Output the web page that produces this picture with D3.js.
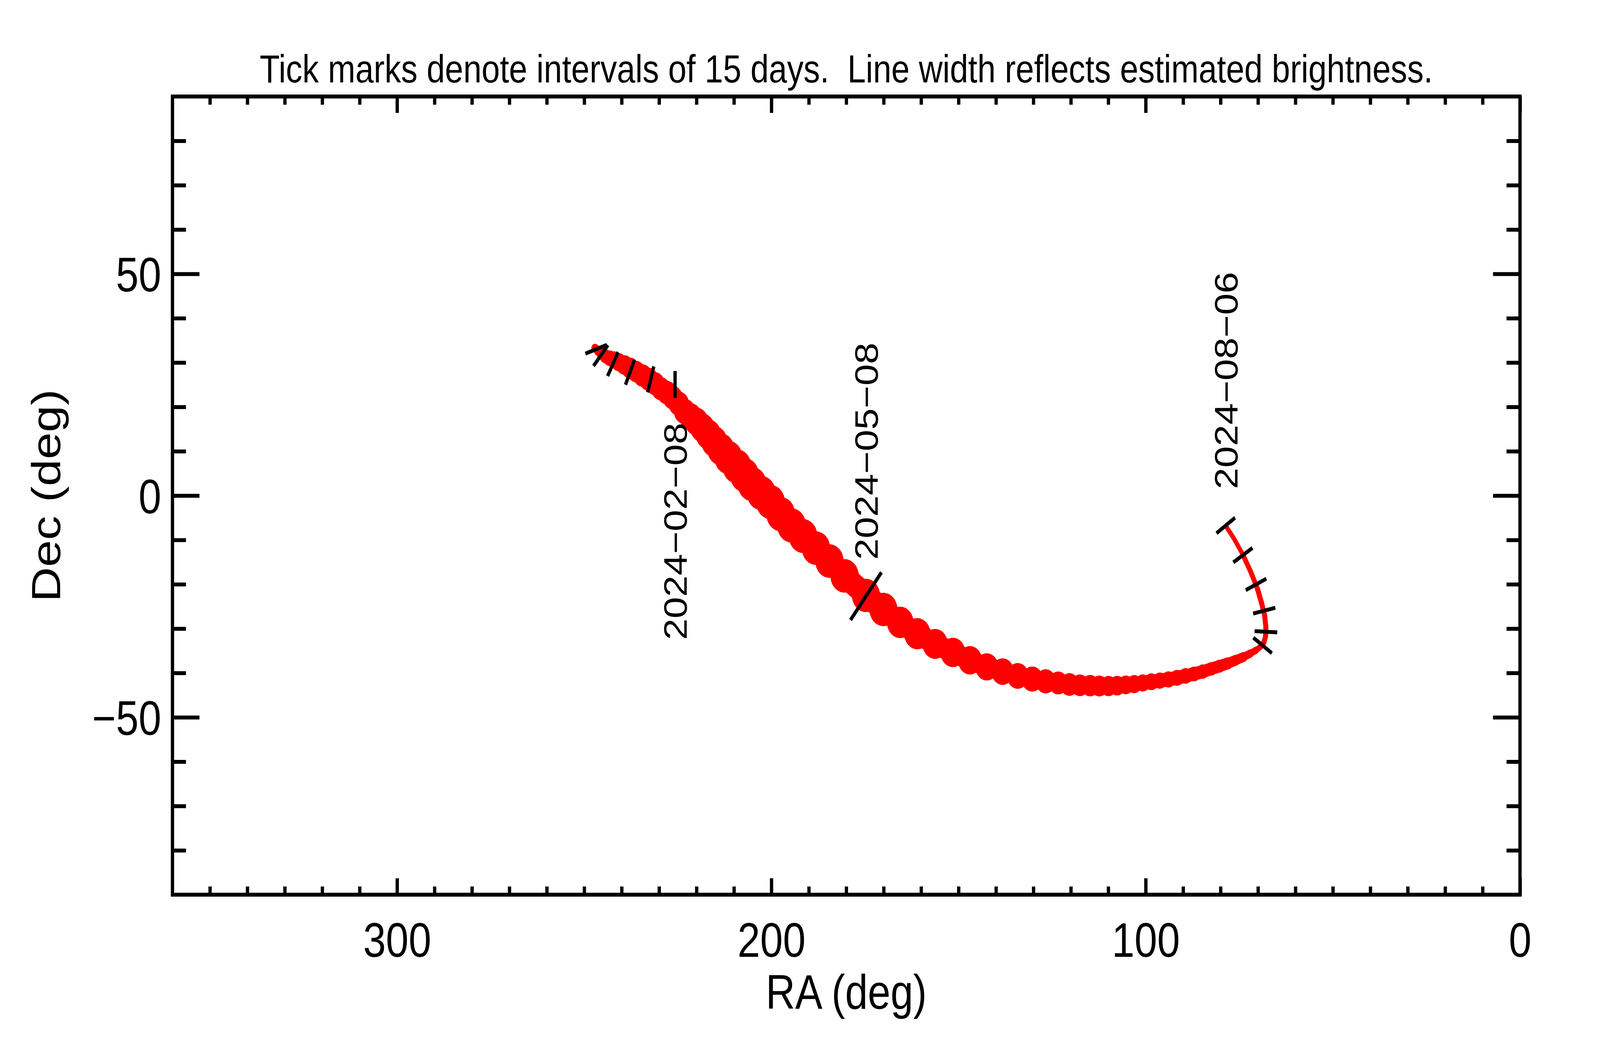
<!DOCTYPE html>
<html><head><meta charset="utf-8">
<script src="https://cdn.jsdelivr.net/npm/d3@7"></script>
<style>
html,body{margin:0;padding:0;background:#fff;overflow:hidden;width:100%;height:100%;}
svg{display:block;}
text{font-family:"Liberation Sans",Arial,Helvetica,sans-serif;fill:#000;}
</style></head><body>
<div id="chart"></div>
<script>
// ---------------- data ----------------
const pathRA = [247.10,246.22,245.34,244.28,243.14,242.00,240.77,239.27,237.78,236.11,234.44,232.76,231.09,229.51,227.93,226.35,224.76,223.18,221.60,220.01,218.43,216.85,215.27,213.51,211.48,209.20,207.18,205.15,202.69,200.23,197.50,194.60,191.52,188.09,184.49,180.44,174.73,170.07,165.58,161.01,156.26,151.51,146.94,142.45,138.23,134.19,130.32,126.71,123.37,120.38,117.57,114.84,112.38,109.92,107.63,105.35,103.06,100.77,98.49,96.20,93.92,91.63,89.34,87.06,84.77,82.48,80.28,78.09,75.98,73.95,72.11,70.52,69.29,68.41,67.97,67.89,68.24,69.03,70.17,71.93,74.13,76.33,78.53];
const pathDec = [33.26,32.64,32.03,31.41,30.97,30.62,30.09,29.47,28.77,27.97,27.09,26.21,25.24,24.10,23.22,22.07,20.75,18.99,17.84,16.70,15.29,13.79,12.20,10.44,8.59,6.56,4.63,2.60,0.57,-1.45,-4.19,-6.74,-9.12,-11.85,-14.76,-18.11,-22.51,-25.68,-28.59,-31.15,-33.44,-35.37,-37.14,-38.63,-39.69,-40.66,-41.37,-41.89,-42.25,-42.60,-42.78,-42.86,-42.95,-42.95,-42.86,-42.69,-42.51,-42.25,-41.98,-41.72,-41.45,-41.10,-40.66,-40.22,-39.69,-39.07,-38.46,-37.84,-37.14,-36.43,-35.64,-34.85,-34.05,-33.08,-31.76,-29.65,-27.00,-24.27,-20.93,-17.22,-13.17,-9.82,-6.92];
// estimated brightness (magnitude) -> line width
const pathMag = [13.7,13.2,12.7,11.9,11.4,11.0,10.6,10.1,9.7,9.5,9.2,9.0,9.0,9.0,8.8,8.8,8.6,8.2,7.8,7.4,7.1,6.7,6.4,6.0,5.6,5.3,5.3,5.3,5.3,5.3,5.3,5.3,5.4,5.5,5.5,5.5,5.6,5.6,6.2,6.3,6.7,6.9,7.2,7.6,7.8,8.1,8.3,8.6,9.0,9.1,9.4,9.5,9.7,9.9,10.1,10.4,10.6,10.9,11.0,11.2,11.2,11.3,11.4,11.7,11.8,12.1,12.3,12.6,13.0,13.3,13.8,14.2,14.5,14.6,14.6,14.6,14.6,14.6,14.6,14.7,14.7,14.9,14.9];

// 15-day tick marks (position, orientation of the mark in degrees)
const tickDate  = ["2023-11-25","2023-12-10","2023-12-25","2024-01-09","2024-01-24","2024-02-08","2024-05-08","2024-05-23","2024-06-07","2024-06-22","2024-07-07","2024-07-22","2024-08-06"];
const tickRA    = [246.83,245.60,242.35,237.78,232.24,225.73,174.73,68.77,67.89,68.33,70.52,74.04,78.61];
const tickDec   = [33.00,31.59,29.65,27.80,26.21,25.07,-22.69,-33.79,-30.70,-25.95,-20.04,-13.44,-6.74];
const tickAngle = [19.1,50.8,62.4,66.8,74.2,90,52.4,-35.3,-2.5,12.4,25.1,32.5,35.3];

const labelDates = ["2024-02-08","2024-05-08","2024-08-06"];
const labelSide  = ["below","above","above"];

const raTicks = [0,100,200,300];
const raLabels = ["0","100","200","300"];
const decTicks = [-50,0,50];
const decLabels = ["\u221250","0","50"];
const titleText = "Tick marks denote intervals of 15 days.  Line width reflects estimated brightness.";
const xTitle = "RA (deg)";
const yTitle = "Dec (deg)";

// ---------------- layout / style ----------------
const W = 4861, H = 2708;
const M = {left:524, right:4618, top:247, bottom:2290};
const FONT = '"Liberation Sans",Arial,Helvetica,sans-serif';
const RED = "#ff0000";
const tickLen = 69, longTickLen = 154, longTickDates = ["2024-05-08"];

const x = d3.scaleLinear().domain([360,0]).range([M.left, M.right]);
const y = d3.scaleLinear().domain([-90,90]).range([M.bottom, M.top]);
const wScale = d3.scaleLinear().domain([15,5]).range([12,90]);

const vw = window.innerWidth || W, vh = window.innerHeight || H;
const svg = d3.select("#chart").append("svg")
  .attr("width", vw).attr("height", vh)
  .attr("viewBox", `0 0 ${W} ${H}`)
  .attr("preserveAspectRatio","none");
svg.append("rect").attr("width", W).attr("height", H).attr("fill", "#fff");

// ---------------- path ----------------
const pts = pathRA.map((r,i)=>({x:x(r), y:y(pathDec[i]), w:wScale(pathMag[i])}));
const gPath = svg.append("g");
const segs = d3.pairs(pts);
gPath.selectAll("line.seg").data(segs).join("line")
  .attr("x1",d=>d[0].x).attr("y1",d=>d[0].y).attr("x2",d=>d[1].x).attr("y2",d=>d[1].y)
  .attr("stroke",RED).attr("stroke-linecap","round")
  .attr("stroke-width",d=>{
    const m = Math.min(d[0].w,d[1].w);
    const k = 1 - 0.28*Math.max(0,Math.min(1,(m-30)/25));
    return m*k;
  });
gPath.selectAll("circle").data(pts).join("circle")
  .attr("cx",d=>d.x).attr("cy",d=>d.y).attr("r",d=>d.w/2).attr("fill",RED);

// ---------------- tick marks ----------------
const ticks = tickDate.map((d,i)=>({date:d, cx:x(tickRA[i]), cy:y(tickDec[i]), a:tickAngle[i]*Math.PI/180,
  L: longTickDates.includes(d) ? longTickLen : tickLen}));
svg.append("g").selectAll("line").data(ticks).join("line")
  .attr("x1",d=>d.cx - d.L/2*Math.cos(d.a)).attr("y1",d=>d.cy + d.L/2*Math.sin(d.a))
  .attr("x2",d=>d.cx + d.L/2*Math.cos(d.a)).attr("y2",d=>d.cy - d.L/2*Math.sin(d.a))
  .attr("stroke","#000").attr("stroke-width",10);

// ---------------- date labels ----------------
const labFS = 99, capH = 0.716*labFS;
svg.append("g").selectAll("text").data(labelDates).join("text")
  .attr("transform",(d,i)=>{
    const t = ticks.find(k=>k.date===d);
    const yy = labelSide[i]==="above" ? t.cy - 93 : t.cy + 98;
    return `translate(${t.cx + capH/2},${yy}) rotate(-90)`;
  })
  .attr("text-anchor",(d,i)=>labelSide[i]==="above"?"start":"end")
  .attr("font-size",labFS)
  .text(d=>d.replace(/-/g,"\u2212"));

// ---------------- axes ----------------
function styleAxis(g, labels){
  g.select(".domain").remove();
  g.selectAll(".tick line").attr("stroke","#000").attr("stroke-width",10);
  g.attr("font-family",FONT).attr("font-size",124);
  if(!labels) g.selectAll(".tick text").remove();
  g.selectAll(".tick text").attr("fill","#000");
}
const minorRA = d3.range(10,360,10).filter(v=>v%100!==0);
const minorDec = d3.range(-80,90,10).filter(v=>v%50!==0);

svg.append("g").attr("transform",`translate(0,${M.bottom})`)
  .call(d3.axisBottom(x).tickValues(raTicks).tickSize(-42).tickPadding(71).tickFormat((d,i)=>raLabels[i]))
  .call(g=>styleAxis(g,true));
svg.append("g").attr("transform",`translate(0,${M.bottom})`)
  .call(d3.axisBottom(x).tickValues(minorRA).tickSize(-21).tickFormat(""))
  .call(g=>styleAxis(g,false));
svg.append("g").attr("transform",`translate(0,${M.top})`)
  .call(d3.axisTop(x).tickValues(raTicks).tickSize(-42).tickFormat(""))
  .call(g=>styleAxis(g,false));
svg.append("g").attr("transform",`translate(0,${M.top})`)
  .call(d3.axisTop(x).tickValues(minorRA).tickSize(-21).tickFormat(""))
  .call(g=>styleAxis(g,false));

const gl = svg.append("g").attr("transform",`translate(${M.left},0)`)
  .call(d3.axisLeft(y).tickValues(decTicks).tickSize(-82).tickPadding(34).tickFormat((d,i)=>decLabels[i]))
  .call(g=>styleAxis(g,true));
gl.selectAll(".tick text").attr("dy","0.36em");
svg.append("g").attr("transform",`translate(${M.left},0)`)
  .call(d3.axisLeft(y).tickValues(minorDec).tickSize(-41).tickFormat(""))
  .call(g=>styleAxis(g,false));
svg.append("g").attr("transform",`translate(${M.right},0)`)
  .call(d3.axisRight(y).tickValues(decTicks).tickSize(-82).tickFormat(""))
  .call(g=>styleAxis(g,false));
svg.append("g").attr("transform",`translate(${M.right},0)`)
  .call(d3.axisRight(y).tickValues(minorDec).tickSize(-41).tickFormat(""))
  .call(g=>styleAxis(g,false));

// frame
svg.append("rect").attr("x",M.left).attr("y",M.top)
  .attr("width",M.right-M.left).attr("height",M.bottom-M.top)
  .attr("fill","none").attr("stroke","#000").attr("stroke-width",10);

// ---------------- titles ----------------
svg.append("text").attr("x",(M.left+M.right)/2).attr("y",211)
  .attr("text-anchor","middle").attr("font-size",100).style("white-space","pre")
  .text(titleText);
svg.append("text").attr("x",(M.left+M.right)/2).attr("y",2582)
  .attr("text-anchor","middle").attr("font-size",124).text(xTitle);
svg.append("text").attr("transform",`translate(183,${(M.top+M.bottom)/2}) rotate(-90)`)
  .attr("text-anchor","middle").attr("font-size",124).text(yTitle);
</script>
</body></html>
